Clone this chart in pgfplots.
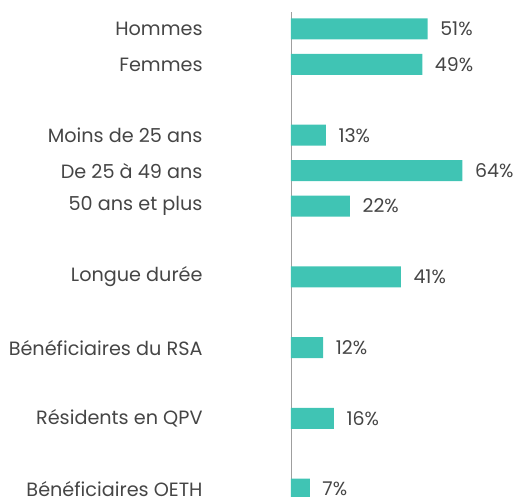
\documentclass[border=0pt]{standalone}
\usepackage{pgfplots}
\pgfplotsset{compat=1.18}
\usepackage{fontspec}
\setmainfont{Poppins}
\definecolor{barc}{HTML}{40C4B4}
\definecolor{txt}{HTML}{454545}
\begin{document}
\begin{tikzpicture}
\useasboundingbox (-291bp,12bp) rectangle (224bp,-485bp);
\begin{axis}[at={(0,0)}, anchor=north west, scale only axis,
  width=224bp, height=485bp,
  xmin=0, xmax=83.6, ymin=-0.48, ymax=13.22, y dir=reverse,
  axis x line=none, axis y line=left,
  axis line style={-, draw=gray!75, line width=0.8pt},
  ytick={0,1,3,4,5,7,9,11,13},
  yticklabels={Hommes, Femmes, Moins de 25 ans, De 25 à 49 ans, 50 ans et plus, Longue durée, Bénéficiaires du RSA, Résidents en QPV, Bénéficiaires OETH},
  ytick style={draw=none},
  yticklabel style={anchor=east, inner sep=0pt, xshift=-84bp, font=\fontsize{19.3}{22}\selectfont, text=txt},
  xbar, bar width=21bp,
  /pgf/number format/assume math mode=true,
  nodes near coords={\pgfmathprintnumber{\pgfplotspointmeta}\%},
  nodes near coords style={anchor=west, inner sep=0pt, xshift=12.5bp, font=\fontsize{19}{22}\selectfont, text=txt},
  clip=false]
\addplot[fill=barc, draw=none] table[x=val, y=y] {
y val
0 51
1 49
3 13
4 64
5 22
7 41
9 12
11 16
13 7
};
\end{axis}
\end{tikzpicture}
\end{document}
